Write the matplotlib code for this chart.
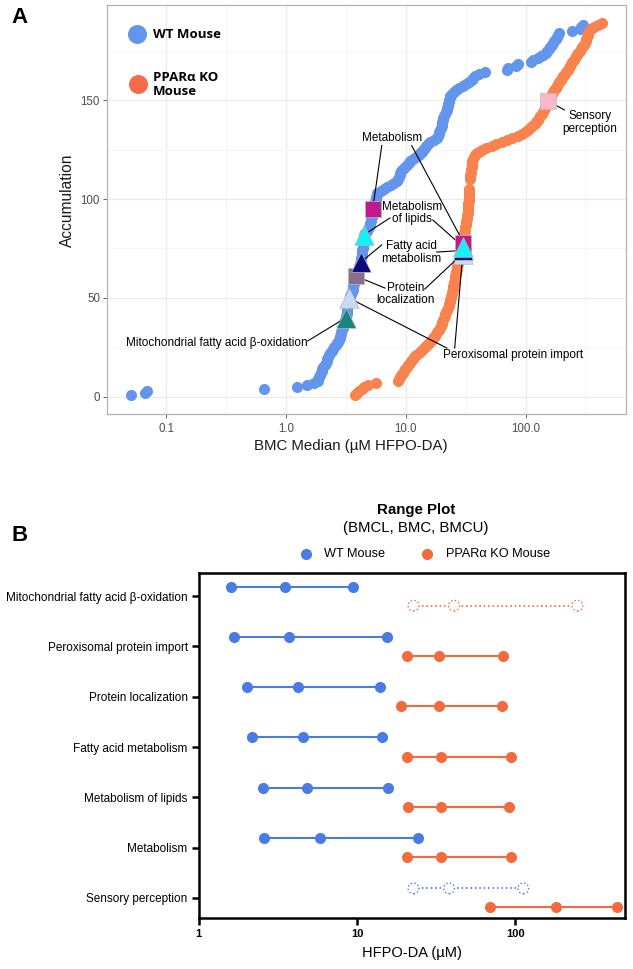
import numpy as np
import matplotlib
matplotlib.use("Agg")
import matplotlib.pyplot as plt
from matplotlib.ticker import FixedLocator, NullLocator

plt.rcParams['font.family'] = ['Liberation Sans', 'DejaVu Sans']

# ---------------- panel A data: BMC median per pathway, sorted ----------------
wt_bmc = [
    0.051, 0.066, 0.069, 0.66, 1.23, 1.5, 1.7, 1.85, 1.85, 1.9,
    1.93, 1.96, 1.98, 2.0, 2.05, 2.1, 2.15, 2.2, 2.2, 2.25,
    2.3, 2.35, 2.4, 2.45, 2.5, 2.6, 2.65, 2.7, 2.75, 2.8,
    2.85, 2.9, 2.9, 2.95, 3.0, 3.0, 3.05, 3.05, 3.1, 3.15,
    3.15, 3.2, 3.2, 3.25, 3.25, 3.3, 3.3, 3.35, 3.35, 3.4,
    3.45, 3.5, 3.55, 3.6, 3.6, 3.65, 3.7, 3.7, 3.75, 3.8,
    3.85, 3.9, 3.95, 4.0, 4.05, 4.1, 4.15, 4.2, 4.25, 4.25,
    4.3, 4.3, 4.35, 4.35, 4.4, 4.4, 4.4, 4.45, 4.45, 4.5,
    4.5, 4.5, 4.6, 4.7, 4.8, 4.9, 5.0, 5.0, 5.1, 5.15,
    5.2, 5.25, 5.3, 5.3, 5.35, 5.4, 5.45, 5.5, 5.55, 5.6,
    5.65, 5.7, 5.8, 6.2, 6.6, 7.0, 7.5, 8.0, 8.4, 8.6,
    8.8, 8.9, 9.0, 9.2, 9.5, 9.9, 10.3, 10.6, 10.9, 11.5,
    12.2, 12.8, 13.2, 13.6, 14.0, 14.4, 14.8, 15.2, 16.0, 17.2,
    18.2, 18.6, 18.8, 19.0, 19.3, 19.6, 19.9, 20.0, 20.2, 20.4,
    20.6, 20.8, 21.2, 21.6, 22.0, 22.2, 22.4, 22.6, 22.8, 23.0,
    23.2, 23.5, 24.5, 25.5, 26.5, 28, 30, 32, 34, 35.5,
    36.5, 38, 41, 46, 70, 72, 84, 87, 110, 116,
    128, 134, 140, 148, 152, 156, 160, 165, 170, 174,
    178, 182, 186, 190, 245, 285, 292, 300]
wt_acc = list(range(1, len(wt_bmc) + 1))

ko_bmc = [
    3.8, 3.9, 4.1, 4.3, 4.5, 4.8, 5.6, 8.6, 8.8, 9.0,
    9.2, 9.4, 9.6, 9.9, 10.2, 10.5, 10.8, 11.0, 11.4, 11.8,
    12.2, 12.8, 13.3, 13.8, 14.4, 15.0, 15.5, 16.0, 16.5, 17.0,
    17.4, 17.8, 18.3, 18.8, 19.2, 19.6, 19.9, 20.2, 20.5, 20.8,
    21.1, 21.4, 21.8, 22.1, 22.5, 22.8, 23.0, 23.2, 23.5, 23.7,
    23.9, 24.1, 24.4, 24.6, 24.8, 25.0, 25.2, 25.4, 25.6, 25.8,
    26.0, 26.2, 26.4, 26.6, 26.8, 27.0, 27.2, 27.4, 27.6, 27.8,
    28.0, 28.2, 28.4, 28.7, 29.0, 29.3, 29.6, 29.9, 30.1, 30.3,
    30.5, 30.7, 30.9, 31.1, 31.3, 31.5, 31.7, 31.9, 32.1, 32.3,
    32.5, 32.7, 32.8, 32.9, 33.0, 33.1, 33.2, 33.3, 33.4, 33.5,
    33.6, 33.7, 33.8, 33.9, 34.0,
    34.2, 34.4, 34.6, 34.8, 35.0, 35.2, 35.4, 35.6, 35.8, 36.0,
    36.3, 37.0, 38.0, 39.0, 40.5, 43, 47, 52, 57, 63,
    70, 77, 86, 93, 99, 104, 109, 114, 119, 123,
    127, 130, 133, 136, 139, 142, 145, 148, 151, 154,
    157, 160, 163, 166, 170, 174, 178, 182, 187, 192,
    197, 202, 207, 212, 218, 224, 230, 236, 241, 246,
    252, 258, 264, 270, 276, 283, 290, 298, 306, 314,
    318, 322, 326, 330, 334, 338, 350, 375, 400, 435]
ko_acc = list(range(1, 106)) + list(range(110, 190))

terms = ['Mitochondrial fatty acid β-oxidation', 'Peroxisomal protein import',
         'Protein localization', 'Fatty acid metabolism', 'Metabolism of lipids',
         'Metabolism', 'Sensory perception']
wt_term_bmc = [3.15, 3.35, 3.85, 4.2, 4.5, 5.3, np.nan]
wt_term_acc = [40, 50, 61, 68, 82, 95, np.nan]
ko_term_bmc = [np.nan, 29.9, 29.9, 29.9, 29.9, 30.3, 153]
ko_term_acc = [np.nan, 72, 72.5, 74, 76, 78, 149.5]

# ---------------- panel B data: BMCL / BMC / BMCU ----------------
wt_bmcl = [1.59, 1.66, 2.03, 2.16, 2.54, 2.59, 22.7]
wt_bmcm = [3.51, 3.71, 4.24, 4.58, 4.86, 5.87, 38.1]
wt_bmcu = [9.4, 15.5, 14.0, 14.3, 15.6, 24.2, 112]
ko_bmcl = [22.7, 20.7, 19.0, 20.7, 21.1, 20.7, 68.7]
ko_bmcm = [40.9, 33.1, 33.1, 33.9, 33.9, 33.9, 179]
ko_bmcu = [246, 83.8, 81.9, 93.1, 91.0, 93.1, 438]
wt_sig = [True, True, True, True, True, True, False]
ko_sig = [False, True, True, True, True, True, True]

# styles
WT_A = '#6495ED'
KO_A = '#F8834F'
WT_B = '#4A7BE3'
KO_B = '#F26B3D'
term_style = [('^', '#1A877D', 200), ('^', '#C8DBF2', 200), ('s', '#8C6C8C', 130),
              ('^', '#0B0B7E', 200), ('^', '#12F2F2', 200), ('s', '#C2188E', 130),
              ('s', '#F8B8C8', 130)]

fig = plt.figure(figsize=(6.33, 9.69), dpi=100)

# ================= panel A =================
ax = fig.add_axes([0.169, 0.5728, 0.820, 0.422])
ax.set_xscale('log')
ax.set_xlim(0.032, 690)
ax.set_ylim(-8.6, 198)
ax.xaxis.set_major_locator(FixedLocator([0.1, 1, 10, 100]))
ax.xaxis.set_minor_locator(FixedLocator([10 ** -0.5, 10 ** 0.5, 10 ** 1.5, 10 ** 2.5]))
ax.set_xticklabels(['0.1', '1.0', '10.0', '100.0'])
ax.yaxis.set_major_locator(FixedLocator([0, 50, 100, 150]))
ax.yaxis.set_minor_locator(FixedLocator([25, 75, 125, 175]))
ax.grid(which='major', color='#EBEBEB', lw=0.9)
ax.grid(which='minor', color='#F2F2F2', lw=0.5)
ax.set_axisbelow(True)
for s in ax.spines.values():
    s.set_color('#B3B3B3')
    s.set_linewidth(0.9)
ax.tick_params(which='major', colors='#4D4D4D', labelsize=8.3, length=3, width=0.6)
ax.tick_params(axis='y', pad=2)
ax.tick_params(which='minor', length=0)
ax.set_xlabel('BMC Median (µM HFPO-DA)', fontsize=10.8, color='#1A1A1A')
ax.set_ylabel('Accumulation', fontsize=11.2, color='#1A1A1A')
ax.xaxis.set_label_coords(0.47, -0.062)
ax.yaxis.set_label_coords(-0.062, 0.523)

ax.scatter(wt_bmc, wt_acc, s=64, color=WT_A, lw=0, zorder=2)
ax.scatter(ko_bmc, ko_acc, s=64, color=KO_A, lw=0, zorder=2)

# pathway markers (hidden ones first)
for i in [0, 1, 2, 3, 4, 5, 6]:
    m, c, sz = term_style[i]
    ax.scatter([wt_term_bmc[i]], [wt_term_acc[i]], marker=m, s=sz, color=c,
               edgecolors='#BBBBBB', linewidths=0.5, zorder=5)
for i in [2, 5, 1, 3, 4, 6]:
    m, c, sz = term_style[i]
    ax.scatter([ko_term_bmc[i]], [ko_term_acc[i]], marker=m, s=sz, color=c,
               edgecolors='#BBBBBB', linewidths=0.5, zorder=5)

# labels and leader lines
lab = [
    (0, (0.266, 27.4), [((1.52, 28.3), 'wt')]),
    (1, (79, 21.2), [((22.0, 24.7), 'wt'), ((25.6, 24.7), 'ko')]),
    (2, (10.0, 52), [((6.7, 55), 'wt'), ((14.4, 54.5), 'ko')]),
    (3, (11.2, 73), [((6.3, 76.8), 'wt'), ((18.1, 73.2), 'ko')]),
    (4, (11.2, 93), [((7.36, 90.4), 'wt'), ((16.8, 89.4), 'ko')]),
    (5, (7.65, 131), [((6.3, 127), 'wt'), ((11.2, 127), 'ko')]),
    (6, (345, 138.6), [((211, 145), 'ko')]),
]
lab_text = ['Mitochondrial fatty acid β-oxidation', 'Peroxisomal protein import',
            'Protein\nlocalization', 'Fatty acid\nmetabolism', 'Metabolism\nof lipids',
            'Metabolism', 'Sensory\nperception']
for i, pos, lines in lab:
    ax.text(pos[0], pos[1], lab_text[i], fontsize=8.5, ha='center', va='center',
            multialignment='center', linespacing=1.08, zorder=6)
    for start, who in lines:
        if who == 'wt':
            end = (wt_term_bmc[i], wt_term_acc[i])
        else:
            end = (ko_term_bmc[i], ko_term_acc[i])
        ax.plot([start[0], end[0]], [start[1], end[1]], color='black', lw=0.8, zorder=4)

# legend A
ax.scatter([0.058], [0.93], s=160, color=WT_A, transform=ax.transAxes, clip_on=False, zorder=6)
ax.scatter([0.060], [0.807], s=160, color='#F96A48', transform=ax.transAxes, clip_on=False, zorder=6)
ax.text(0.089, 0.927, 'WT Mouse', transform=ax.transAxes, fontsize=9.5, fontweight='bold',
        family=['Open Sans', 'DejaVu Sans'], va='center')
ax.text(0.089, 0.805, 'PPARα KO\nMouse', transform=ax.transAxes, fontsize=9.5, fontweight='bold',
        family=['Open Sans', 'DejaVu Sans'], va='center', linespacing=1.1)

fig.text(0.018, 0.982, 'A', fontsize=16, fontweight='bold', va='center')

# ================= panel B =================
bx = fig.add_axes([0.314, 0.0526, 0.673, 0.3561])
bx.set_xscale('log')
bx.set_xlim(1, 490)
ypos = np.arange(len(terms))
bx.set_ylim(6.40, -0.46)
off = 0.19
for i in range(len(terms)):
    for l, m, u, sig, col, dy in [(wt_bmcl[i], wt_bmcm[i], wt_bmcu[i], wt_sig[i], WT_B, -off),
                                  (ko_bmcl[i], ko_bmcm[i], ko_bmcu[i], ko_sig[i], KO_B, off)]:
        yy = [ypos[i] + dy] * 3
        if sig:
            bx.plot([l, m, u], yy, '-o', color=col, lw=1.5, ms=8, mew=0, zorder=3)
        else:
            bx.plot([l, m, u], yy, ':', color=col, lw=1.2, zorder=2)
            bx.scatter([l, m, u], yy, s=60, facecolors='white', edgecolors=col,
                       linewidths=1.0, linestyles=':', zorder=3)

bx.set_yticks(ypos)
bx.set_yticklabels(terms, fontsize=8.5)
bx.xaxis.set_major_locator(FixedLocator([1, 10, 100]))
bx.xaxis.set_minor_locator(NullLocator())
bx.set_xticklabels(['1', '10', '100'], fontweight='bold', fontsize=8)
bx.tick_params(axis='both', direction='out', length=5, width=1.8, color='black', pad=3)
for s in bx.spines.values():
    s.set_linewidth(1.8)
bx.set_xlabel('HFPO-DA (µM)', fontsize=10.5, labelpad=5)

fig.text(0.657, 0.4737, 'Range Plot', fontsize=10.8, fontweight='bold', ha='center', va='center')
fig.text(0.657, 0.4551, '(BMCL, BMC, BMCU)', fontsize=10.8, ha='center', va='center')
fig.lines.append(plt.Line2D([306 / 633], [1 - 554 / 969], marker='o', ms=7, color=WT_B,
                            transform=fig.transFigure))
fig.lines.append(plt.Line2D([427 / 633], [1 - 554 / 969], marker='o', ms=7, color=KO_B,
                            transform=fig.transFigure))
fig.text(324 / 633, 1 - 554 / 969, 'WT Mouse', fontsize=9.2, va='center')
fig.text(446 / 633, 1 - 554 / 969, 'PPARα KO Mouse', fontsize=9.2, va='center')

fig.text(0.018, 0.447, 'B', fontsize=16, fontweight='bold', va='center')

fig.savefig('out.png', dpi=100)
